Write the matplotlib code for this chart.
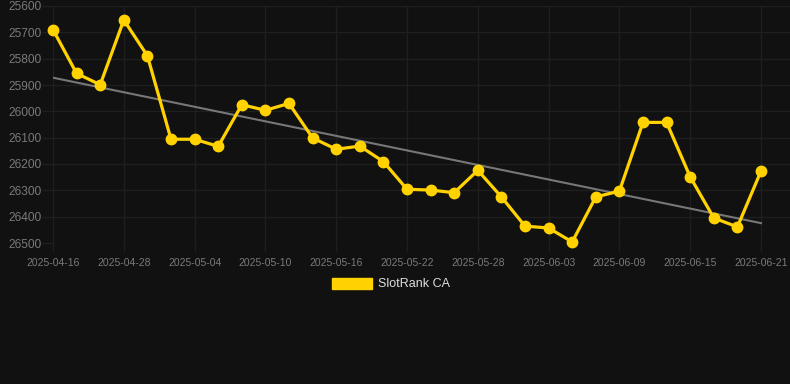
import numpy as np
import matplotlib
matplotlib.use("Agg")
import matplotlib.pyplot as plt
from matplotlib.patches import Patch

dates = ["2025-04-16", "2025-04-24", "2025-04-26", "2025-04-28", "2025-04-30", "2025-05-02",
         "2025-05-04", "2025-05-06", "2025-05-08", "2025-05-10", "2025-05-12", "2025-05-14",
         "2025-05-16", "2025-05-18", "2025-05-20", "2025-05-22", "2025-05-24", "2025-05-26",
         "2025-05-28", "2025-05-30", "2025-06-01", "2025-06-03", "2025-06-05", "2025-06-07",
         "2025-06-09", "2025-06-11", "2025-06-13", "2025-06-15", "2025-06-17", "2025-06-19",
         "2025-06-21"]
rank = [25690, 25856, 25899, 25653, 25789, 26106, 26106, 26133, 25975, 25996, 25970,
        26101, 26144, 26132, 26191, 26296, 26299, 26309, 26224, 26325, 26436, 26443,
        26496, 26325, 26303, 26042, 26042, 26249, 26405, 26439, 26227]
series_name = "SlotRank CA"
y_ticks = [25600, 25700, 25800, 25900, 26000, 26100, 26200, 26300, 26400, 26500]

BG = "#111111"
GRID = "#1f1f1f"
TXT = "#7a7a7a"
YEL = "#FFD200"

W, H = 790, 384
fig = plt.figure(figsize=(W / 100, H / 100), dpi=100, facecolor=BG)
plt.rcParams['font.family'] = ['Liberation Sans', 'DejaVu Sans']
ax = fig.add_axes([53 / W, (H - 243) / H, (790 - 53) / W, (243 - 6) / H])
ax.set_facecolor(BG)

x = np.arange(len(rank))
y = np.array(rank, dtype=float)

# trend line (linear regression)
k, b = np.polyfit(x, y, 1)
ax.plot(x, k * x + b, color="#777777", lw=1.5, zorder=2)

ax.plot(x, y, color=YEL, lw=2.3, marker="o", markersize=7.5, zorder=3,
        solid_joinstyle="round", clip_on=False)

ax.set_ylim(26500, 25600)
ax.set_xlim(0, (790 - 53) / ((761 - 53) / 30))
ax.set_yticks(y_ticks)
ax.set_yticklabels([str(v) for v in y_ticks])
shown = list(range(0, len(dates), 3))
ax.set_xticks(shown)
ax.set_xticklabels([dates[i] for i in shown])

ax.grid(True, color=GRID, lw=1)
for s in ax.spines.values():
    s.set_visible(False)
ax.tick_params(axis="y", colors=GRID, length=8, width=1, pad=0.5, labelsize=8.6, labelcolor=TXT)
ax.tick_params(axis="x", colors=GRID, length=6, width=1, pad=5, labelsize=7.5, labelcolor=TXT)

leg = fig.legend(handles=[Patch(facecolor=YEL, edgecolor=YEL)], labels=[series_name],
                 loc="center", bbox_to_anchor=(391 / W, 1 - 284 / H), frameon=False,
                 fontsize=9, handlelength=3.2, handleheight=1.0, handletextpad=0.55,
                 labelcolor="#dddddd")

fig.savefig("out.png", dpi=100, facecolor=BG)
